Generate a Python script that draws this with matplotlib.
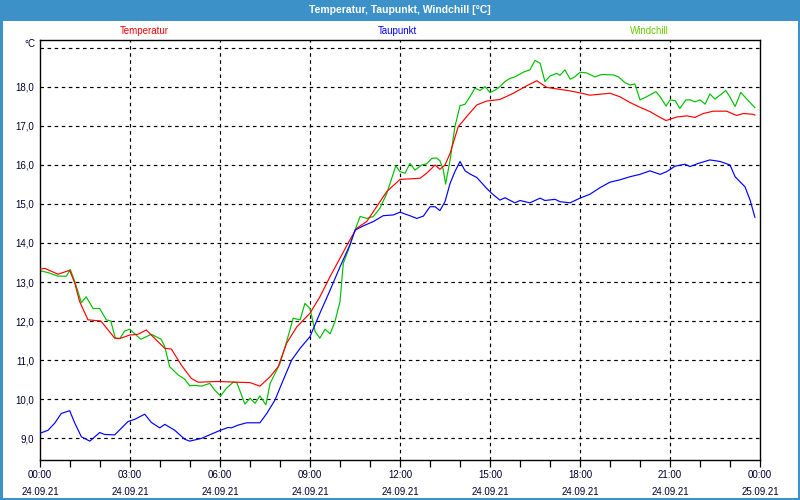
import matplotlib
matplotlib.use("Agg")
import matplotlib.pyplot as plt
from matplotlib.patches import Rectangle
from matplotlib.ticker import MultipleLocator, FixedLocator

plt.rcParams["font.family"] = ["Liberation Sans", "DejaVu Sans"]

# time in hours since 24.09.21 00:00
temp_t = [0.0, 0.16, 0.6, 0.99, 1.16, 1.32, 1.6, 2.03, 2.49, 2.66, 2.99, 3.27, 3.54, 3.88,
          4.16, 4.38, 4.71, 5.04, 5.27, 5.93, 6.6, 7.0, 7.33, 7.67, 7.94, 8.22, 8.56, 9.0,
          9.33, 9.67, 10.0, 10.33, 10.56, 10.89, 11.22, 11.56, 12.0, 12.67, 12.89, 13.17,
          13.33, 13.5, 13.67, 13.94, 14.22, 14.56, 14.89, 15.33, 15.78, 16.22, 16.56, 16.89,
          17.33, 17.67, 18.0, 18.33, 19.0, 19.33, 19.67, 20.0, 20.33, 20.67, 20.87, 21.22,
          21.56, 21.83, 22.11, 22.44, 22.89, 23.22, 23.44, 23.78, 23.83]
temp_v = [13.33, 13.35, 13.2, 13.3, 12.97, 12.5, 12.03, 12.0, 11.56, 11.55, 11.64, 11.66,
          11.77, 11.51, 11.3, 11.28, 10.87, 10.53, 10.43, 10.45, 10.43, 10.42, 10.33, 10.57,
          10.83, 11.43, 11.85, 12.2, 12.62, 13.14, 13.61, 14.08, 14.38, 14.55, 14.93, 15.32,
          15.63, 15.66, 15.79, 16.0, 15.89, 16.0, 16.3, 16.98, 17.24, 17.54, 17.64, 17.68,
          17.84, 18.03, 18.16, 17.99, 17.94, 17.9, 17.85, 17.79, 17.84, 17.75, 17.6, 17.48,
          17.37, 17.22, 17.14, 17.23, 17.26, 17.22, 17.32, 17.38, 17.38, 17.27, 17.32, 17.3,
          17.28]

dew_t = [0.0, 0.27, 0.49, 0.71, 0.99, 1.16, 1.38, 1.66, 1.99, 2.16, 2.49, 2.93, 3.16, 3.49,
         3.71, 3.99, 4.16, 4.49, 4.82, 4.99, 5.38, 5.71, 6.02, 6.27, 6.38, 6.6, 6.89, 7.33,
         7.56, 7.83, 8.11, 8.39, 8.67, 9.0, 9.33, 9.67, 10.0, 10.33, 10.5, 10.78, 11.11, 11.44,
         11.78, 12.0, 12.33, 12.56, 12.78, 13.0, 13.17, 13.33, 13.5, 13.67, 13.83, 14.0, 14.17,
         14.33, 14.56, 14.89, 15.06, 15.33, 15.5, 15.83, 16.0, 16.33, 16.67, 16.83, 17.17,
         17.33, 17.67, 18.0, 18.33, 18.67, 19.0, 19.33, 19.67, 20.0, 20.33, 20.67, 20.89,
         21.17, 21.5, 21.67, 21.94, 22.33, 22.67, 23.0, 23.17, 23.5, 23.67, 23.83]
dew_v = [9.12, 9.2, 9.38, 9.63, 9.7, 9.38, 9.03, 8.92, 9.14, 9.09, 9.08, 9.42, 9.48, 9.61,
         9.4, 9.26, 9.35, 9.2, 8.97, 8.92, 8.99, 9.1, 9.2, 9.27, 9.26, 9.33, 9.39, 9.39, 9.63,
         9.97, 10.49, 11.0, 11.3, 11.6, 12.2, 12.79, 13.39, 13.95, 14.33, 14.44, 14.55, 14.7,
         14.72, 14.79, 14.7, 14.63, 14.69, 14.93, 14.93, 14.83, 15.06, 15.53, 15.83, 16.09,
         15.85, 15.77, 15.68, 15.4, 15.27, 15.1, 15.16, 15.03, 15.09, 15.03, 15.15, 15.09,
         15.12, 15.06, 15.03, 15.15, 15.25, 15.42, 15.56, 15.62, 15.7, 15.76, 15.85, 15.76,
         15.83, 15.97, 16.02, 15.96, 16.04, 16.13, 16.09, 16.0, 15.7, 15.44, 15.1, 14.66]

wind_t = [0.0, 0.27, 0.6, 0.88, 1.01, 1.16, 1.38, 1.54, 1.77, 1.99, 2.21, 2.36, 2.51, 2.66,
          2.82, 2.99, 3.36, 3.71, 4.04, 4.16, 4.32, 4.6, 4.82, 4.99, 5.16, 5.38, 5.66, 5.82,
          6.02, 6.21, 6.44, 6.56, 6.83, 7.0, 7.17, 7.33, 7.53, 7.67, 8.0, 8.22, 8.44, 8.67,
          8.83, 9.0, 9.17, 9.33, 9.5, 9.67, 9.83, 10.0, 10.11, 10.28, 10.44, 10.67, 10.89,
          11.11, 11.33, 11.56, 11.86, 12.0, 12.17, 12.33, 12.5, 12.72, 12.89, 13.06, 13.22,
          13.33, 13.44, 13.52, 13.67, 13.83, 14.0, 14.17, 14.33, 14.5, 14.67, 14.83, 15.0,
          15.17, 15.33, 15.5, 15.67, 15.83, 16.11, 16.33, 16.5, 16.67, 16.83, 17.0, 17.22,
          17.33, 17.5, 17.67, 17.83, 18.0, 18.22, 18.5, 18.72, 19.11, 19.28, 19.5, 19.67,
          19.83, 20.0, 20.22, 20.53, 20.67, 20.87, 21.0, 21.17, 21.33, 21.53, 21.67, 21.83,
          22.0, 22.17, 22.33, 22.5, 22.86, 23.0, 23.17, 23.36, 23.56, 23.83]
wind_v = [13.29, 13.24, 13.15, 13.15, 13.32, 13.01, 12.47, 12.62, 12.32, 12.32, 12.03, 12.0,
          11.56, 11.55, 11.74, 11.79, 11.53, 11.66, 11.53, 11.34, 10.83, 10.62, 10.51, 10.34,
          10.35, 10.33, 10.4, 10.23, 10.08, 10.27, 10.43, 10.42, 9.87, 10.02, 9.89, 10.08,
          9.85, 10.4, 10.91, 11.47, 12.07, 12.03, 12.45, 12.32, 11.73, 11.56, 11.79, 11.67,
          11.98, 12.5, 13.48, 13.82, 14.2, 14.68, 14.63, 14.68, 14.89, 15.27, 15.98, 15.83,
          15.79, 16.04, 15.87, 16.0, 16.03, 16.17, 16.18, 16.11, 15.89, 15.51, 16.13, 16.98,
          17.52, 17.56, 17.75, 17.97, 17.91, 18.01, 17.86, 17.92, 18.01, 18.14, 18.22, 18.26,
          18.38, 18.44, 18.68, 18.61, 18.14, 18.28, 18.35, 18.3, 18.44, 18.2, 18.26, 18.38,
          18.36, 18.26, 18.32, 18.31, 18.26, 18.11, 18.05, 18.08, 17.67, 17.75, 17.88, 17.75,
          17.51, 17.67, 17.65, 17.45, 17.67, 17.67, 17.62, 17.67, 17.56, 17.82, 17.69, 17.91,
          17.74, 17.5, 17.86, 17.69, 17.47]

x_ticks = [0, 3, 6, 9, 12, 15, 18, 21, 24]
x_times = ["00:00", "03:00", "06:00", "09:00", "12:00", "15:00", "18:00", "21:00", "00:00"]
x_dates = ["24.09.21"] * 8 + ["25.09.21"]
y_ticks = [9, 10, 11, 12, 13, 14, 15, 16, 17, 18]

title = "Temperatur, Taupunkt, Windchill [°C]"
series_names = ["Temperatur", "Taupunkt", "Windchill"]

frame_blue = "#3c91c8"
label_col = "#000033"

fig = plt.figure(figsize=(8, 5), dpi=100)
fig.patch.set_facecolor("white")

# title bar and blue frame
fig.patches.append(Rectangle((0, 1 - 21 / 500), 1, 21 / 500, transform=fig.transFigure,
                             facecolor=frame_blue, edgecolor="none", zorder=0))
fig.patches.append(Rectangle((0.5 / 800, 1.5 / 500), 798.5 / 800, 497 / 500,
                             transform=fig.transFigure, fill=False,
                             edgecolor=frame_blue, linewidth=2.2, zorder=0))
fig.text(0.5, 1 - 10 / 500, title, color="white", fontsize=7.5, fontweight="bold",
         ha="center", va="center")

ax = fig.add_axes([40 / 800, 40 / 500, 720 / 800, 420 / 500])
ax.set_xlim(0, 24)
ax.set_ylim(8.436, 19.205)

ax.plot(temp_t, temp_v, color="#ff0000", lw=0.85, zorder=3)
ax.plot(dew_t, dew_v, color="#0000ff", lw=0.85, zorder=3)
ax.plot(wind_t, wind_v, color="#00c000", lw=0.85, zorder=2)

# dashed grid
for yv in y_ticks + [19]:
    ax.axhline(yv, color="black", lw=0.85, linestyle=(0, (3, 3)), zorder=1)
for xv in x_ticks[1:-1]:
    ax.axvline(xv, color="black", lw=0.85, linestyle=(0, (3, 3)), zorder=1)

ax.set_xticks(x_ticks)
ax.set_xticklabels([f"{t}\n{d}" for t, d in zip(x_times, x_dates)], linespacing=1.85)
ax.xaxis.set_minor_locator(MultipleLocator(1))
ax.tick_params(axis="x", which="both", direction="out", length=5, width=0.9,
               labelsize=7, labelcolor=label_col, pad=2)

ax.yaxis.set_major_locator(FixedLocator(y_ticks))
ax.set_yticklabels([f"{v:.1f}".replace(".", ",") for v in y_ticks])
ax.tick_params(axis="y", length=0, labelsize=7, labelcolor=label_col, pad=4)

ax.annotate("°C", xy=(0, 19.1), xycoords=("axes fraction", "data"),
            xytext=(-3, 0), textcoords="offset points", ha="right", va="center",
            fontsize=7, color=label_col)

for sp in ax.spines.values():
    sp.set_linewidth(1.0)
    sp.set_color("black")

# series labels above the chart
label_x = [144, 397, 649]
label_colors = ["#ff0000", "#0000ff", "#66cc00"]
for name, xp, c in zip(series_names, label_x, label_colors):
    fig.text(xp / 800, 1 - 31 / 500, name, color=c, fontsize=7, ha="center", va="center")

fig.savefig("out.png", dpi=100, facecolor=fig.get_facecolor())
